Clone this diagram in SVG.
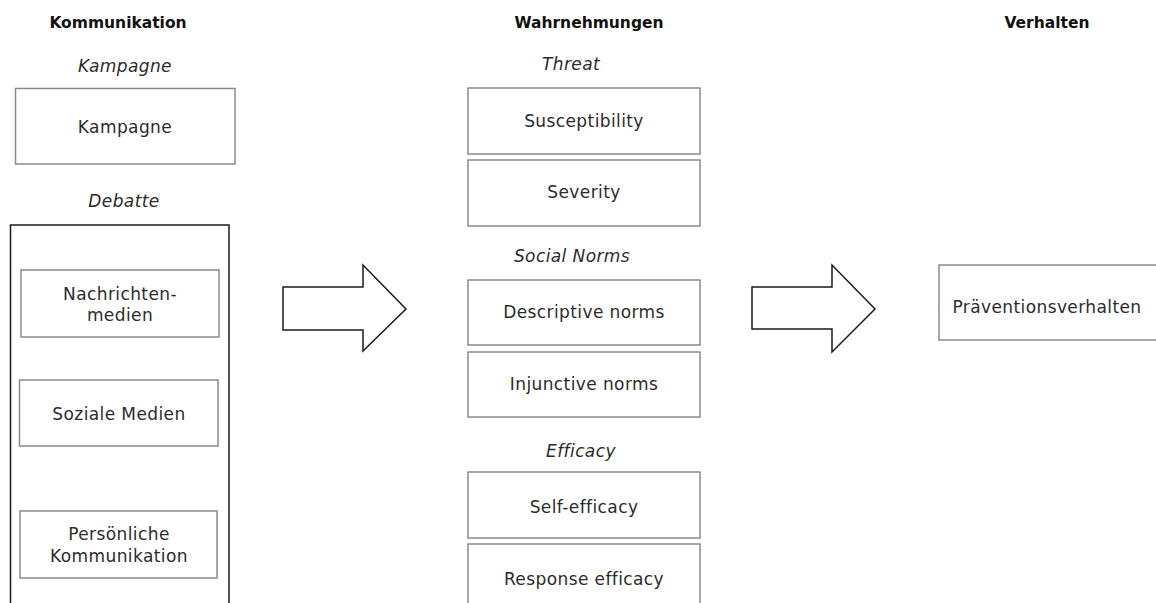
<svg xmlns="http://www.w3.org/2000/svg" width="1156" height="603" viewBox="0 0 1156 603">
<style>
.bg{fill:#fff}
.box rect{fill:#fff;stroke:#8a8a8a;stroke-width:1.5}
.outer{fill:none;stroke:#1a1a1a;stroke-width:1.5}
.arrow{fill:#fff;stroke:#1a1a1a;stroke-width:1.5;stroke-linejoin:miter}
text{font-family:"DejaVu Sans","Liberation Sans",sans-serif;fill:#2b2b2b;font-size:17px;letter-spacing:0.4px;text-anchor:middle}
.title{font-weight:bold;font-size:15.5px;letter-spacing:0;fill:#111}
.it{font-style:italic}
</style>
<rect class="bg" x="0" y="0" width="1156" height="603"/>
<g id="titles">
<text class="title" x="118" y="28">Kommunikation</text>
<text class="title" x="589" y="28">Wahrnehmungen</text>
<text class="title" x="1047" y="28">Verhalten</text>
</g>
<g id="labels">
<text class="it" x="125" y="72">Kampagne</text>
<text class="it" x="124" y="207">Debatte</text>
<text class="it" x="571" y="70">Threat</text>
<text class="it" x="572" y="262">Social Norms</text>
<text class="it" x="581" y="457">Efficacy</text>
</g>
<g id="debatte-group"><rect class="outer" x="10.5" y="225" width="218.5" height="400"/></g>
<g id="kampagne" class="box"><rect x="15.5" y="88.5" width="219.5" height="75.5"/><text x="125" y="133">Kampagne</text></g>
<g id="nachrichtenmedien" class="box"><rect x="21" y="270" width="198" height="67"/><text x="120" y="300">Nachrichten-</text><text x="120" y="321">medien</text></g>
<g id="soziale-medien" class="box"><rect x="19.5" y="380" width="198.5" height="66"/><text x="119" y="420">Soziale Medien</text></g>
<g id="persoenliche-kommunikation" class="box"><rect x="20" y="511" width="197" height="67"/><text x="119" y="540">Persönliche</text><text x="119" y="562">Kommunikation</text></g>
<g id="susceptibility" class="box"><rect x="468" y="88" width="232" height="66"/><text x="584" y="127">Susceptibility</text></g>
<g id="severity" class="box"><rect x="468" y="160" width="232" height="66"/><text x="584" y="198">Severity</text></g>
<g id="descriptive-norms" class="box"><rect x="468" y="280" width="232" height="65"/><text x="584" y="318">Descriptive norms</text></g>
<g id="injunctive-norms" class="box"><rect x="468" y="352" width="232" height="65"/><text x="584" y="390">Injunctive norms</text></g>
<g id="self-efficacy" class="box"><rect x="468" y="472" width="232" height="66"/><text x="584" y="513">Self-efficacy</text></g>
<g id="response-efficacy" class="box"><rect x="468" y="544" width="232" height="80"/><text x="584" y="585">Response efficacy</text></g>
<g id="praeventionsverhalten" class="box"><rect x="939" y="265" width="230" height="75"/><text x="1047" y="313">Präventionsverhalten</text></g>
<g id="connectors">
<path class="arrow" d="M283 287 H363 V265 L406 309 L363 351 V330 H283 Z"/>
<path class="arrow" d="M752 287 H832 V265 L875 309 L832 352 V329 H752 Z"/>
</g>
</svg>
